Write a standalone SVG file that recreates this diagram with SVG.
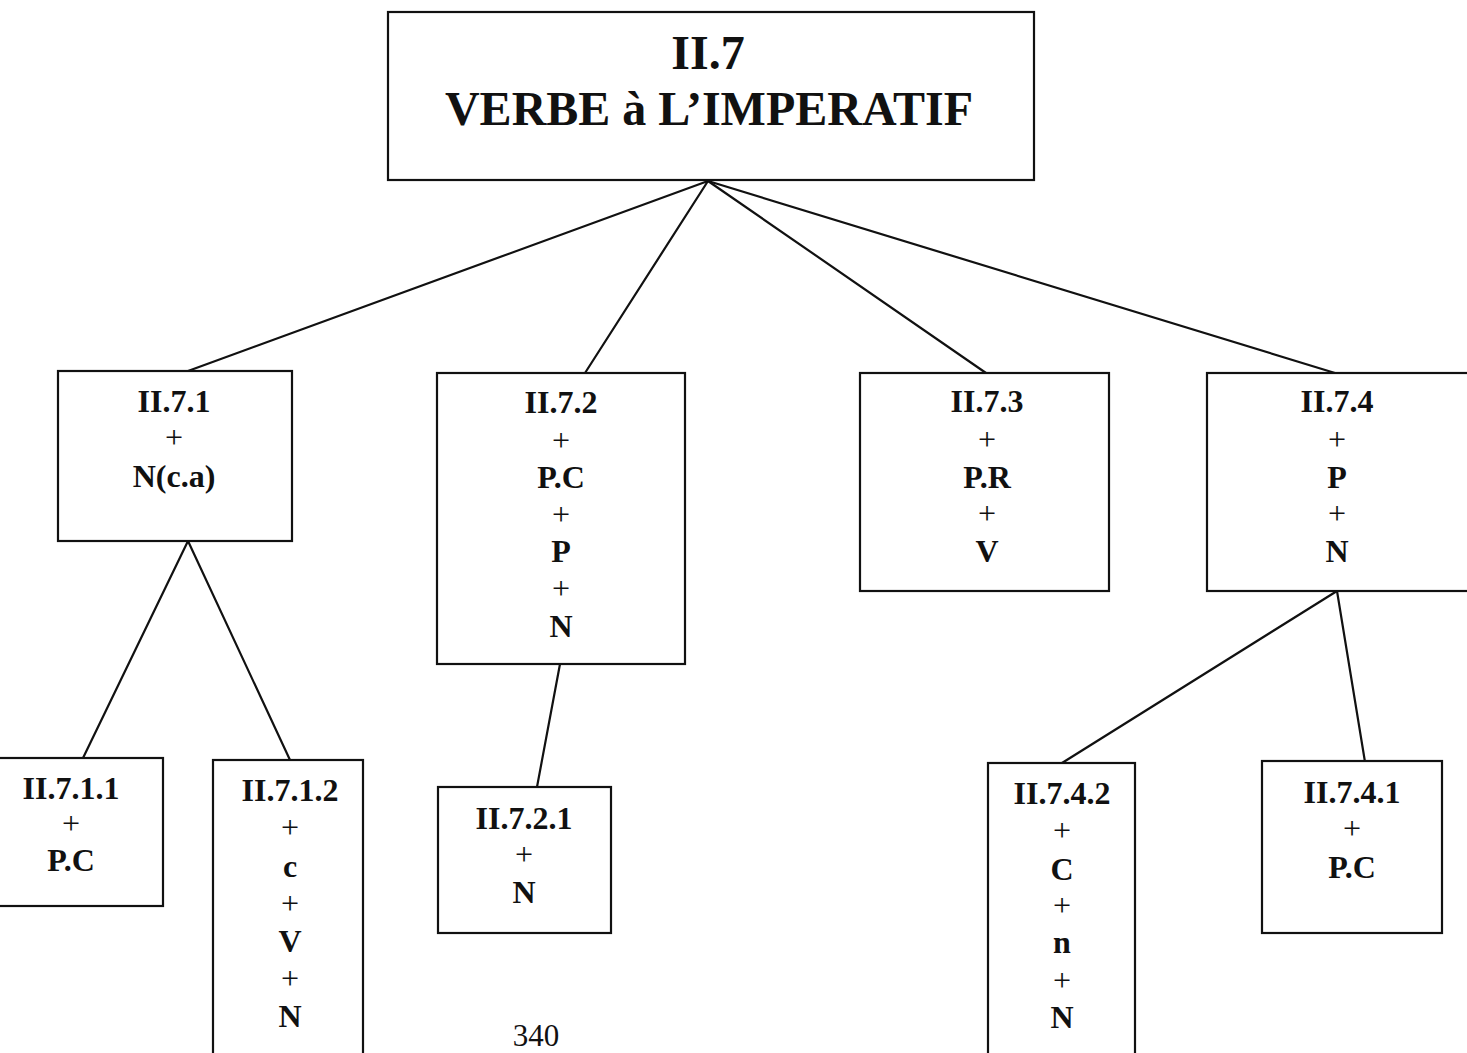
<svg xmlns="http://www.w3.org/2000/svg" width="1467" height="1053" viewBox="0 0 1467 1053">
  <style>
    .box { fill: #ffffff; stroke: #111111; stroke-width: 2.2; }
    .edge { stroke: #111111; stroke-width: 2.2; fill: none; stroke-linecap: round; }
    .lbl { font-family: "Liberation Serif", "Times New Roman", serif; font-weight: bold; font-size: 32px; fill: #111111; text-anchor: middle; }
    .plus { font-family: "Liberation Serif", "Times New Roman", serif; font-weight: normal; font-size: 32px; fill: #111111; text-anchor: middle; }
    .title { font-family: "Liberation Serif", "Times New Roman", serif; font-weight: bold; font-size: 48px; fill: #111111; text-anchor: middle; }
    .page { font-family: "Liberation Serif", "Times New Roman", serif; font-size: 31px; fill: #111111; text-anchor: middle; }
  </style>
  <rect x="0" y="0" width="1467" height="1053" fill="#ffffff"/>

  <!-- connectors -->
  <g id="connectors">
    <line class="edge" x1="708" y1="181" x2="188" y2="371"/>
    <line class="edge" x1="708" y1="181" x2="585" y2="373"/>
    <line class="edge" x1="708" y1="181" x2="986" y2="373"/>
    <line class="edge" x1="708" y1="181" x2="1335" y2="373"/>
    <line class="edge" x1="188" y1="541" x2="83" y2="758"/>
    <line class="edge" x1="188" y1="541" x2="290" y2="760"/>
    <line class="edge" x1="560" y1="664" x2="537" y2="787"/>
    <line class="edge" x1="1337" y1="591" x2="1062" y2="763"/>
    <line class="edge" x1="1337" y1="591" x2="1365" y2="762"/>
  </g>

  <!-- root -->
  <g id="n-II7">
    <rect class="box" x="388" y="12" width="646" height="168"/>
    <text class="title" x="708" y="69">II.7</text>
    <text class="title" x="709" y="125">VERBE à L’IMPERATIF</text>
  </g>

  <!-- level 1 -->
  <g id="n-II71">
    <rect class="box" x="58" y="371" width="234" height="170"/>
    <text class="lbl" x="174" y="412">II.7.1</text>
    <text class="plus" x="174" y="448">+</text>
    <text class="lbl" x="174" y="487">N(c.a)</text>
  </g>
  <g id="n-II72">
    <rect class="box" x="437" y="373" width="248" height="291"/>
    <text class="lbl" x="561" y="413">II.7.2</text>
    <text class="plus" x="561" y="451">+</text>
    <text class="lbl" x="561" y="488">P.C</text>
    <text class="plus" x="561" y="525">+</text>
    <text class="lbl" x="561" y="562">P</text>
    <text class="plus" x="561" y="599">+</text>
    <text class="lbl" x="561" y="637">N</text>
  </g>
  <g id="n-II73">
    <rect class="box" x="860" y="373" width="249" height="218"/>
    <text class="lbl" x="987" y="412">II.7.3</text>
    <text class="plus" x="987" y="450">+</text>
    <text class="lbl" x="987" y="488">P.R</text>
    <text class="plus" x="987" y="524">+</text>
    <text class="lbl" x="987" y="562">V</text>
  </g>
  <g id="n-II74">
    <rect class="box" x="1207" y="373" width="290" height="218"/>
    <text class="lbl" x="1337" y="412">II.7.4</text>
    <text class="plus" x="1337" y="450">+</text>
    <text class="lbl" x="1337" y="488">P</text>
    <text class="plus" x="1337" y="524">+</text>
    <text class="lbl" x="1337" y="562">N</text>
  </g>

  <!-- level 2 -->
  <g id="n-II711">
    <rect class="box" x="-20" y="758" width="183" height="148"/>
    <text class="lbl" x="71" y="799">II.7.1.1</text>
    <text class="plus" x="71" y="834">+</text>
    <text class="lbl" x="71" y="871">P.C</text>
  </g>
  <g id="n-II712">
    <rect class="box" x="213" y="760" width="150" height="320"/>
    <text class="lbl" x="290" y="801">II.7.1.2</text>
    <text class="plus" x="290" y="838">+</text>
    <text class="lbl" x="290" y="877">c</text>
    <text class="plus" x="290" y="914">+</text>
    <text class="lbl" x="290" y="952">V</text>
    <text class="plus" x="290" y="989">+</text>
    <text class="lbl" x="290" y="1027">N</text>
  </g>
  <g id="n-II721">
    <rect class="box" x="438" y="787" width="173" height="146"/>
    <text class="lbl" x="524" y="829">II.7.2.1</text>
    <text class="plus" x="524" y="865">+</text>
    <text class="lbl" x="524" y="903">N</text>
  </g>
  <g id="n-II742">
    <rect class="box" x="988" y="763" width="147" height="320"/>
    <text class="lbl" x="1062" y="804">II.7.4.2</text>
    <text class="plus" x="1062" y="841">+</text>
    <text class="lbl" x="1062" y="880">C</text>
    <text class="plus" x="1062" y="916">+</text>
    <text class="lbl" x="1062" y="953">n</text>
    <text class="plus" x="1062" y="991">+</text>
    <text class="lbl" x="1062" y="1028">N</text>
  </g>
  <g id="n-II741">
    <rect class="box" x="1262" y="761" width="180" height="172"/>
    <text class="lbl" x="1352" y="803">II.7.4.1</text>
    <text class="plus" x="1352" y="839">+</text>
    <text class="lbl" x="1352" y="878">P.C</text>
  </g>

  <!-- page number -->
  <text class="page" x="536" y="1046">340</text>
</svg>
